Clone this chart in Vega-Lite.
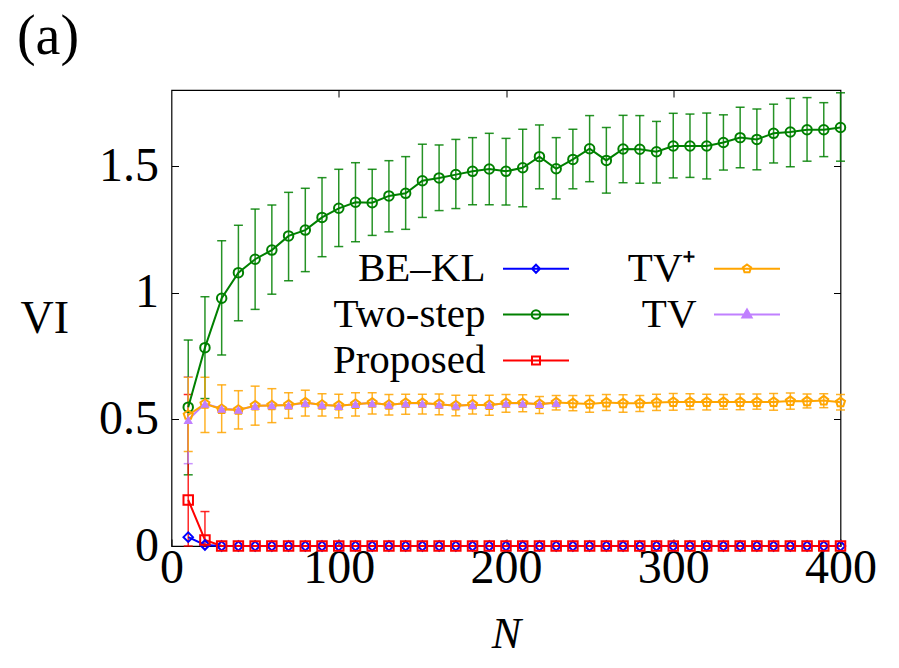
{
 "$schema": "https://vega.github.io/schema/vega-lite/v6.json",
 "width": 669, "height": 456,
 "autosize": {"type": "none"},
 "padding": {"left": 171.5, "top": 90, "right": 58.5, "bottom": 122},
 "background": "white",
 "title": {"text": "(a)", "anchor": "start", "frame": "bounds", "font": "Liberation Serif", "fontSize": 56, "fontWeight": "normal", "color": "black", "dx": -3, "offset": 24},
 "config": {
  "view": {"stroke": "black", "strokeWidth": 1.2},
  "axis": {"grid": false, "domain": false, "ticks": true, "tickColor": "black", "tickWidth": 1, "labelFont": "Liberation Serif", "labelFontSize": 48, "labelColor": "black", "labelFlush": false, "labelOverlap": false, "titleFont": "Liberation Serif", "titleColor": "black", "titleFontWeight": "normal"}
 },
 "data": {"values": [
  {"N":10,"s":"BE–KL","v":0.035,"lo":0.035,"hi":0.035},
  {"N":20,"s":"BE–KL","v":0.004,"lo":0.004,"hi":0.004},
  {"N":30,"s":"BE–KL","v":0,"lo":0,"hi":0},{"N":40,"s":"BE–KL","v":0,"lo":0,"hi":0},{"N":50,"s":"BE–KL","v":0,"lo":0,"hi":0},{"N":60,"s":"BE–KL","v":0,"lo":0,"hi":0},{"N":70,"s":"BE–KL","v":0,"lo":0,"hi":0},{"N":80,"s":"BE–KL","v":0,"lo":0,"hi":0},{"N":90,"s":"BE–KL","v":0,"lo":0,"hi":0},{"N":100,"s":"BE–KL","v":0,"lo":0,"hi":0},
  {"N":110,"s":"BE–KL","v":0,"lo":0,"hi":0},{"N":120,"s":"BE–KL","v":0,"lo":0,"hi":0},{"N":130,"s":"BE–KL","v":0,"lo":0,"hi":0},{"N":140,"s":"BE–KL","v":0,"lo":0,"hi":0},{"N":150,"s":"BE–KL","v":0,"lo":0,"hi":0},{"N":160,"s":"BE–KL","v":0,"lo":0,"hi":0},{"N":170,"s":"BE–KL","v":0,"lo":0,"hi":0},{"N":180,"s":"BE–KL","v":0,"lo":0,"hi":0},{"N":190,"s":"BE–KL","v":0,"lo":0,"hi":0},{"N":200,"s":"BE–KL","v":0,"lo":0,"hi":0},
  {"N":210,"s":"BE–KL","v":0,"lo":0,"hi":0},{"N":220,"s":"BE–KL","v":0,"lo":0,"hi":0},{"N":230,"s":"BE–KL","v":0,"lo":0,"hi":0},{"N":240,"s":"BE–KL","v":0,"lo":0,"hi":0},{"N":250,"s":"BE–KL","v":0,"lo":0,"hi":0},{"N":260,"s":"BE–KL","v":0,"lo":0,"hi":0},{"N":270,"s":"BE–KL","v":0,"lo":0,"hi":0},{"N":280,"s":"BE–KL","v":0,"lo":0,"hi":0},{"N":290,"s":"BE–KL","v":0,"lo":0,"hi":0},{"N":300,"s":"BE–KL","v":0,"lo":0,"hi":0},
  {"N":310,"s":"BE–KL","v":0,"lo":0,"hi":0},{"N":320,"s":"BE–KL","v":0,"lo":0,"hi":0},{"N":330,"s":"BE–KL","v":0,"lo":0,"hi":0},{"N":340,"s":"BE–KL","v":0,"lo":0,"hi":0},{"N":350,"s":"BE–KL","v":0,"lo":0,"hi":0},{"N":360,"s":"BE–KL","v":0,"lo":0,"hi":0},{"N":370,"s":"BE–KL","v":0,"lo":0,"hi":0},{"N":380,"s":"BE–KL","v":0,"lo":0,"hi":0},{"N":390,"s":"BE–KL","v":0,"lo":0,"hi":0},{"N":400,"s":"BE–KL","v":0,"lo":0,"hi":0},

  {"N":10,"s":"Two-step","v":0.548,"lo":0.281,"hi":0.813},
  {"N":20,"s":"Two-step","v":0.783,"lo":0.582,"hi":0.984},
  {"N":30,"s":"Two-step","v":0.978,"lo":0.754,"hi":1.205},
  {"N":40,"s":"Two-step","v":1.079,"lo":0.889,"hi":1.266},
  {"N":50,"s":"Two-step","v":1.132,"lo":0.934,"hi":1.330},
  {"N":60,"s":"Two-step","v":1.168,"lo":0.994,"hi":1.346},
  {"N":70,"s":"Two-step","v":1.224,"lo":1.047,"hi":1.396},
  {"N":80,"s":"Two-step","v":1.247,"lo":1.083,"hi":1.412},
  {"N":90,"s":"Two-step","v":1.297,"lo":1.142,"hi":1.454},
  {"N":100,"s":"Two-step","v":1.333,"lo":1.182,"hi":1.487},
  {"N":110,"s":"Two-step","v":1.357,"lo":1.201,"hi":1.513},
  {"N":120,"s":"Two-step","v":1.355,"lo":1.226,"hi":1.487},
  {"N":130,"s":"Two-step","v":1.382,"lo":1.240,"hi":1.521},
  {"N":140,"s":"Two-step","v":1.392,"lo":1.250,"hi":1.537},
  {"N":150,"s":"Two-step","v":1.442,"lo":1.297,"hi":1.586},
  {"N":160,"s":"Two-step","v":1.453,"lo":1.324,"hi":1.583},
  {"N":170,"s":"Two-step","v":1.466,"lo":1.332,"hi":1.605},
  {"N":180,"s":"Two-step","v":1.479,"lo":1.347,"hi":1.612},
  {"N":190,"s":"Two-step","v":1.488,"lo":1.347,"hi":1.629},
  {"N":200,"s":"Two-step","v":1.479,"lo":1.346,"hi":1.609},
  {"N":210,"s":"Two-step","v":1.493,"lo":1.339,"hi":1.645},
  {"N":220,"s":"Two-step","v":1.537,"lo":1.410,"hi":1.662},
  {"N":230,"s":"Two-step","v":1.489,"lo":1.370,"hi":1.612},
  {"N":240,"s":"Two-step","v":1.526,"lo":1.410,"hi":1.645},
  {"N":250,"s":"Two-step","v":1.568,"lo":1.438,"hi":1.699},
  {"N":260,"s":"Two-step","v":1.522,"lo":1.393,"hi":1.652},
  {"N":270,"s":"Two-step","v":1.567,"lo":1.434,"hi":1.700},
  {"N":280,"s":"Two-step","v":1.566,"lo":1.432,"hi":1.699},
  {"N":290,"s":"Two-step","v":1.556,"lo":1.433,"hi":1.676},
  {"N":300,"s":"Two-step","v":1.579,"lo":1.453,"hi":1.708},
  {"N":310,"s":"Two-step","v":1.579,"lo":1.455,"hi":1.705},
  {"N":320,"s":"Two-step","v":1.579,"lo":1.449,"hi":1.709},
  {"N":330,"s":"Two-step","v":1.593,"lo":1.484,"hi":1.702},
  {"N":340,"s":"Two-step","v":1.612,"lo":1.493,"hi":1.732},
  {"N":350,"s":"Two-step","v":1.605,"lo":1.485,"hi":1.725},
  {"N":360,"s":"Two-step","v":1.629,"lo":1.512,"hi":1.744},
  {"N":370,"s":"Two-step","v":1.634,"lo":1.497,"hi":1.767},
  {"N":380,"s":"Two-step","v":1.643,"lo":1.519,"hi":1.770},
  {"N":390,"s":"Two-step","v":1.643,"lo":1.537,"hi":1.750},
  {"N":400,"s":"Two-step","v":1.652,"lo":1.519,"hi":1.789},

  {"N":10,"s":"Proposed","v":0.182,"lo":0,"hi":0.598},
  {"N":20,"s":"Proposed","v":0.024,"lo":0,"hi":0.136},
  {"N":30,"s":"Proposed","v":0,"lo":0,"hi":0},{"N":40,"s":"Proposed","v":0,"lo":0,"hi":0},{"N":50,"s":"Proposed","v":0,"lo":0,"hi":0},{"N":60,"s":"Proposed","v":0,"lo":0,"hi":0},{"N":70,"s":"Proposed","v":0,"lo":0,"hi":0},{"N":80,"s":"Proposed","v":0,"lo":0,"hi":0},{"N":90,"s":"Proposed","v":0,"lo":0,"hi":0},{"N":100,"s":"Proposed","v":0,"lo":0,"hi":0},
  {"N":110,"s":"Proposed","v":0,"lo":0,"hi":0},{"N":120,"s":"Proposed","v":0,"lo":0,"hi":0},{"N":130,"s":"Proposed","v":0,"lo":0,"hi":0},{"N":140,"s":"Proposed","v":0,"lo":0,"hi":0},{"N":150,"s":"Proposed","v":0,"lo":0,"hi":0},{"N":160,"s":"Proposed","v":0,"lo":0,"hi":0},{"N":170,"s":"Proposed","v":0,"lo":0,"hi":0},{"N":180,"s":"Proposed","v":0,"lo":0,"hi":0},{"N":190,"s":"Proposed","v":0,"lo":0,"hi":0},{"N":200,"s":"Proposed","v":0,"lo":0,"hi":0},
  {"N":210,"s":"Proposed","v":0,"lo":0,"hi":0},{"N":220,"s":"Proposed","v":0,"lo":0,"hi":0},{"N":230,"s":"Proposed","v":0,"lo":0,"hi":0},{"N":240,"s":"Proposed","v":0,"lo":0,"hi":0},{"N":250,"s":"Proposed","v":0,"lo":0,"hi":0},{"N":260,"s":"Proposed","v":0,"lo":0,"hi":0},{"N":270,"s":"Proposed","v":0,"lo":0,"hi":0},{"N":280,"s":"Proposed","v":0,"lo":0,"hi":0},{"N":290,"s":"Proposed","v":0,"lo":0,"hi":0},{"N":300,"s":"Proposed","v":0,"lo":0,"hi":0},
  {"N":310,"s":"Proposed","v":0,"lo":0,"hi":0},{"N":320,"s":"Proposed","v":0,"lo":0,"hi":0},{"N":330,"s":"Proposed","v":0,"lo":0,"hi":0},{"N":340,"s":"Proposed","v":0,"lo":0,"hi":0},{"N":350,"s":"Proposed","v":0,"lo":0,"hi":0},{"N":360,"s":"Proposed","v":0,"lo":0,"hi":0},{"N":370,"s":"Proposed","v":0,"lo":0,"hi":0},{"N":380,"s":"Proposed","v":0,"lo":0,"hi":0},{"N":390,"s":"Proposed","v":0,"lo":0,"hi":0},{"N":400,"s":"Proposed","v":0,"lo":0,"hi":0},

  {"N":10,"s":"TV","v":0.498,"lo":0.325,"hi":0.668},
  {"N":20,"s":"TV","v":0.562,"lo":0.562,"hi":0.562},
  {"N":30,"s":"TV","v":0.542,"lo":0.542,"hi":0.542},
  {"N":40,"s":"TV","v":0.538,"lo":0.538,"hi":0.538},
  {"N":50,"s":"TV","v":0.553,"lo":0.553,"hi":0.553},
  {"N":60,"s":"TV","v":0.556,"lo":0.556,"hi":0.556},
  {"N":70,"s":"TV","v":0.556,"lo":0.556,"hi":0.556},
  {"N":80,"s":"TV","v":0.565,"lo":0.565,"hi":0.565},
  {"N":90,"s":"TV","v":0.558,"lo":0.558,"hi":0.558},
  {"N":100,"s":"TV","v":0.553,"lo":0.553,"hi":0.553},
  {"N":110,"s":"TV","v":0.561,"lo":0.561,"hi":0.561},
  {"N":120,"s":"TV","v":0.564,"lo":0.564,"hi":0.564},
  {"N":130,"s":"TV","v":0.558,"lo":0.558,"hi":0.558},
  {"N":140,"s":"TV","v":0.563,"lo":0.563,"hi":0.563},
  {"N":150,"s":"TV","v":0.563,"lo":0.563,"hi":0.563},
  {"N":160,"s":"TV","v":0.559,"lo":0.559,"hi":0.559},
  {"N":170,"s":"TV","v":0.555,"lo":0.555,"hi":0.555},
  {"N":180,"s":"TV","v":0.557,"lo":0.557,"hi":0.557},
  {"N":190,"s":"TV","v":0.557,"lo":0.557,"hi":0.557},
  {"N":200,"s":"TV","v":0.563,"lo":0.563,"hi":0.563},
  {"N":210,"s":"TV","v":0.563,"lo":0.563,"hi":0.563},
  {"N":220,"s":"TV","v":0.561,"lo":0.561,"hi":0.561},
  {"N":230,"s":"TV","v":0.565,"lo":0.565,"hi":0.565},

  {"N":10,"s":"TV⁺","v":0.517,"lo":0.373,"hi":0.666},
  {"N":20,"s":"TV⁺","v":0.561,"lo":0.448,"hi":0.666},
  {"N":30,"s":"TV⁺","v":0.540,"lo":0.448,"hi":0.636},
  {"N":40,"s":"TV⁺","v":0.537,"lo":0.462,"hi":0.613},
  {"N":50,"s":"TV⁺","v":0.554,"lo":0.477,"hi":0.631},
  {"N":60,"s":"TV⁺","v":0.555,"lo":0.487,"hi":0.621},
  {"N":70,"s":"TV⁺","v":0.557,"lo":0.504,"hi":0.605},
  {"N":80,"s":"TV⁺","v":0.566,"lo":0.513,"hi":0.615},
  {"N":90,"s":"TV⁺","v":0.557,"lo":0.513,"hi":0.601},
  {"N":100,"s":"TV⁺","v":0.554,"lo":0.506,"hi":0.599},
  {"N":110,"s":"TV⁺","v":0.560,"lo":0.513,"hi":0.605},
  {"N":120,"s":"TV⁺","v":0.565,"lo":0.521,"hi":0.605},
  {"N":130,"s":"TV⁺","v":0.557,"lo":0.517,"hi":0.598},
  {"N":140,"s":"TV⁺","v":0.564,"lo":0.520,"hi":0.599},
  {"N":150,"s":"TV⁺","v":0.564,"lo":0.521,"hi":0.599},
  {"N":160,"s":"TV⁺","v":0.560,"lo":0.518,"hi":0.600},
  {"N":170,"s":"TV⁺","v":0.554,"lo":0.514,"hi":0.595},
  {"N":180,"s":"TV⁺","v":0.558,"lo":0.521,"hi":0.595},
  {"N":190,"s":"TV⁺","v":0.556,"lo":0.516,"hi":0.595},
  {"N":200,"s":"TV⁺","v":0.564,"lo":0.528,"hi":0.598},
  {"N":210,"s":"TV⁺","v":0.564,"lo":0.530,"hi":0.597},
  {"N":220,"s":"TV⁺","v":0.560,"lo":0.523,"hi":0.590},
  {"N":230,"s":"TV⁺","v":0.566,"lo":0.537,"hi":0.594},
  {"N":240,"s":"TV⁺","v":0.563,"lo":0.534,"hi":0.594},
  {"N":250,"s":"TV⁺","v":0.561,"lo":0.528,"hi":0.594},
  {"N":260,"s":"TV⁺","v":0.566,"lo":0.535,"hi":0.598},
  {"N":270,"s":"TV⁺","v":0.563,"lo":0.528,"hi":0.597},
  {"N":280,"s":"TV⁺","v":0.563,"lo":0.531,"hi":0.594},
  {"N":290,"s":"TV⁺","v":0.566,"lo":0.535,"hi":0.599},
  {"N":300,"s":"TV⁺","v":0.568,"lo":0.536,"hi":0.602},
  {"N":310,"s":"TV⁺","v":0.568,"lo":0.539,"hi":0.601},
  {"N":320,"s":"TV⁺","v":0.568,"lo":0.537,"hi":0.599},
  {"N":330,"s":"TV⁺","v":0.568,"lo":0.540,"hi":0.598},
  {"N":340,"s":"TV⁺","v":0.568,"lo":0.538,"hi":0.600},
  {"N":350,"s":"TV⁺","v":0.568,"lo":0.540,"hi":0.600},
  {"N":360,"s":"TV⁺","v":0.568,"lo":0.536,"hi":0.602},
  {"N":370,"s":"TV⁺","v":0.572,"lo":0.540,"hi":0.604},
  {"N":380,"s":"TV⁺","v":0.571,"lo":0.545,"hi":0.600},
  {"N":390,"s":"TV⁺","v":0.574,"lo":0.546,"hi":0.601},
  {"N":400,"s":"TV⁺","v":0.567,"lo":0.537,"hi":0.598}
 ]},
 "resolve": {"axis": {"x": "independent", "y": "independent"}},
 "encoding": {
  "color": {
   "field": "s", "type": "nominal",
   "scale": {"domain": ["BE–KL", "Two-step", "Proposed", "TV⁺", "TV"], "range": ["#0000ff", "#008000", "#ff0000", "#ffa500", "#c080ff"]},
   "legend": {
    "orient": "none", "legendX": 344, "legendY": 158, "columns": 2, "direction": "vertical", "title": null,
    "labelFont": "Liberation Serif", "labelFontSize": 41, "labelColor": "black", "labelAlign": "right", "labelBaseline": "middle", "labelOffset": -71, "labelLimit": 400,
    "symbolSize": 400, "symbolStrokeWidth": 2, "rowPadding": 4, "columnPadding": 54,
    "encode": {"symbols": {"update": {
     "shape": {"signal": "datum.value === 'BE–KL' ? 'M-3.3,0H3.3M0,-0.4L0.4,0L0,0.4L-0.4,0Z' : datum.value === 'Two-step' ? 'M-3.3,0H3.3M0.43,0A0.43,0.43 0 1,1 -0.43,0A0.43,0.43 0 1,1 0.43,0Z' : datum.value === 'Proposed' ? 'M-3.3,0H3.3M-0.4,-0.4H0.4V0.4H-0.4Z' : datum.value === 'TV⁺' ? 'M-3.3,0H3.3M0,-0.43L0.41,-0.13L0.25,0.35L-0.25,0.35L-0.41,-0.13Z' : 'M-3.3,0H3.3M0,-0.5L0.46,0.3H-0.46Z'"},
     "stroke": {"scale": "color", "field": "value"},
     "fill": {"scale": "color", "field": "value"},
     "fillOpacity": {"signal": "datum.value === 'TV' ? 1 : 0"},
     "strokeWidth": {"value": 2},
     "opacity": {"value": 1}
    }}}
   }
  }
 },
 "layer": [
  {
   "transform": [{"filter": "datum.hi > datum.lo"}],
   "mark": {"type": "errorbar", "ticks": {"size": 9, "thickness": 1.5}, "thickness": 1.5, "opacity": 0.85},
   "encoding": {
    "x": {"field": "N", "type": "quantitative", "scale": {"domain": [0, 400], "nice": false},
     "axis": {"orient": "bottom", "values": [0, 100, 200, 300, 400], "format": "d", "tickSize": -7, "labelPadding": 5, "title": "N", "titleFontSize": 44, "titleFontStyle": "italic", "titlePadding": 20}},
    "y": {"field": "lo", "type": "quantitative", "scale": {"domain": [0, 1.8], "nice": false},
     "axis": {"orient": "left", "values": [0, 0.5, 1, 1.5], "format": "~g", "tickSize": -7, "labelPadding": 20, "title": "VI", "titleAngle": 0, "titleAlign": "right", "titleBaseline": "middle", "titleFontSize": 46, "titlePadding": 30}},
    "y2": {"field": "hi"}
   }
  },
  {
   "mark": {"type": "line", "strokeWidth": 2},
   "encoding": {
    "x": {"field": "N", "type": "quantitative", "axis": null},
    "y": {"field": "v", "type": "quantitative", "axis": null}
   }
  },
  {
   "transform": [{"filter": "datum.s !== 'TV'"}],
   "mark": {"type": "point", "filled": false, "strokeWidth": 2, "size": 90, "opacity": 1},
   "encoding": {
    "x": {"field": "N", "type": "quantitative", "axis": null},
    "y": {"field": "v", "type": "quantitative", "axis": null},
    "shape": {"field": "s", "type": "nominal", "legend": null,
     "scale": {"domain": ["BE–KL", "Two-step", "Proposed", "TV⁺"], "range": ["diamond", "circle", "square", "M0,-1L0.951,-0.309L0.588,0.809L-0.588,0.809L-0.951,-0.309Z"]}}
   }
  },
  {
   "transform": [{"filter": "datum.s === 'TV'"}],
   "mark": {"type": "point", "filled": true, "shape": "triangle-up", "size": 90, "opacity": 1},
   "encoding": {
    "x": {"field": "N", "type": "quantitative", "axis": null},
    "y": {"field": "v", "type": "quantitative", "axis": null}
   }
  },
  {
   "mark": {"type": "point", "opacity": 0},
   "encoding": {
    "x": {"field": "N", "type": "quantitative", "axis": {"orient": "top", "values": [100, 200, 300], "labels": false, "tickSize": -7, "title": null}},
    "y": {"field": "v", "type": "quantitative", "axis": {"orient": "right", "values": [0.5, 1, 1.5], "labels": false, "tickSize": -7, "title": null}}
   }
  }
 ]
}
